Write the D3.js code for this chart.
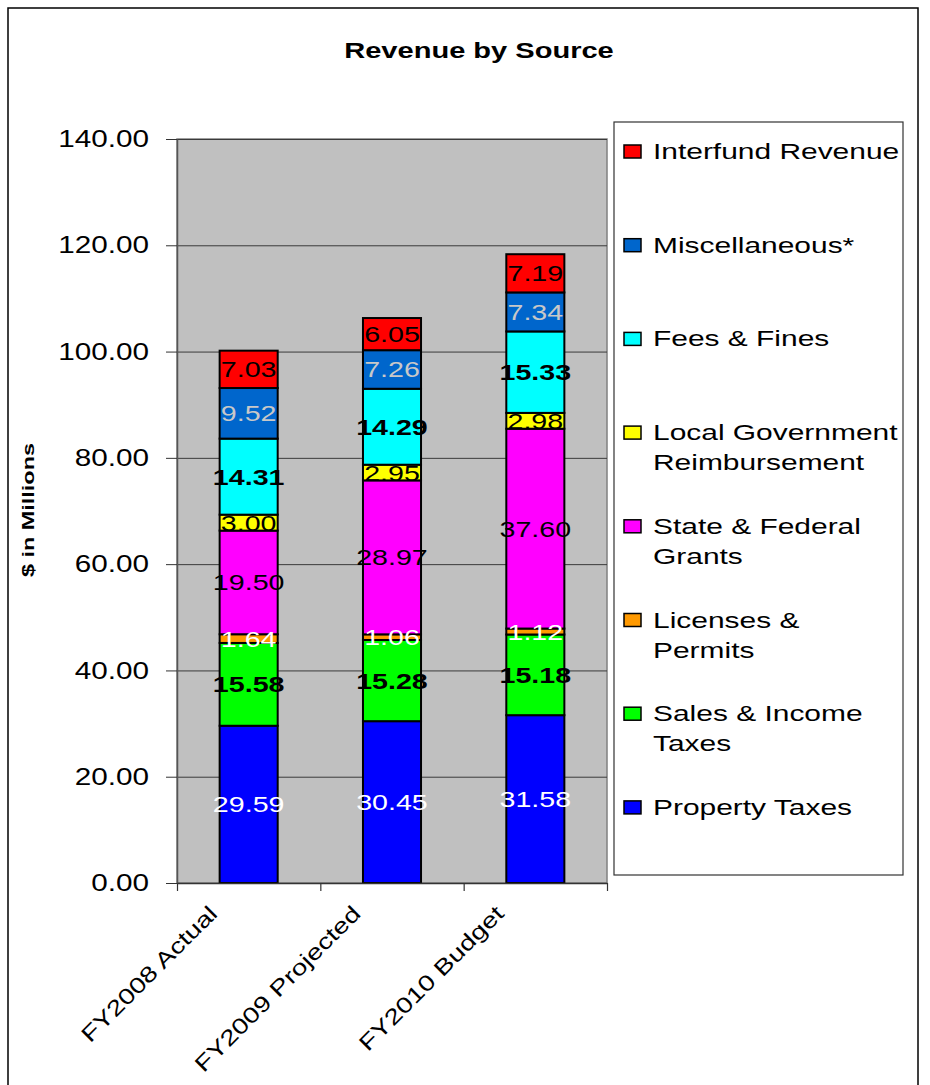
<!DOCTYPE html>
<html>
<head>
<meta charset="utf-8">
<script src="https://cdn.jsdelivr.net/npm/d3@7"></script>
<style>
  html, body { margin: 0; padding: 0; background: #fff; }
  svg { display: block; font-family: "Liberation Sans", Arial, sans-serif; }
</style>
</head>
<body>
<svg id="chart" width="930" height="1085"></svg>
<script>
// Fiscal-year categories
const categories = ["FY2008 Actual", "FY2009 Projected", "FY2010 Budget"];

// Revenue by source, $ in millions (stacked bottom to top)
const propertyTaxes      = [29.59, 30.45, 31.58];
const salesIncomeTaxes   = [15.58, 15.28, 15.18];
const licensesPermits    = [1.64, 1.06, 1.12];
const stateFederalGrants = [19.50, 28.97, 37.60];
const localGovReimb      = [3.00, 2.95, 2.98];
const feesFines          = [14.31, 14.29, 15.33];
const miscellaneous      = [9.52, 7.26, 7.34];
const interfundRevenue   = [7.03, 6.05, 7.19];

const seriesNames = [
  "Property Taxes", "Sales & Income Taxes", "Licenses & Permits",
  "State & Federal Grants", "Local Government Reimbursement",
  "Fees & Fines", "Miscellaneous*", "Interfund Revenue"
];
const legendLines = [
  ["Property Taxes"], ["Sales & Income", "Taxes"], ["Licenses &", "Permits"],
  ["State & Federal", "Grants"], ["Local Government", "Reimbursement"],
  ["Fees & Fines"], ["Miscellaneous*"], ["Interfund Revenue"]
];
const seriesValues = [propertyTaxes, salesIncomeTaxes, licensesPermits,
  stateFederalGrants, localGovReimb, feesFines, miscellaneous, interfundRevenue];

const yTicks = [0, 20, 40, 60, 80, 100, 120, 140];

// Styling per series
const fills = ["#0000FF", "#00FF00", "#FF9900", "#FF00FF", "#FFFF00", "#00FFFF", "#0066CC", "#FF0000"];
const labelColors = ["#FFFFFF", "#000000", "#FFFFFF", "#000000", "#000000", "#000000", "#C8C8C8", "#000000"];
const labelWeights = ["normal", "bold", "normal", "normal", "normal", "bold", "normal", "normal"];

// Build table rows for d3.stack
const table = categories.map((c, i) => {
  const row = { category: c };
  seriesNames.forEach((s, j) => { row[s] = seriesValues[j][i]; });
  return row;
});
const stacked = d3.stack().keys(seriesNames)(table);

const svg = d3.select("#chart");

// Widen text along its baseline (the glyphs are drawn horizontally stretched)
function stretch(sel, k) {
  sel.each(function () {
    const w = this.getComputedTextLength();
    d3.select(this).attr("textLength", w * k).attr("lengthAdjust", "spacingAndGlyphs");
  });
}

// Outer frame
svg.append("rect")
  .attr("x", 8).attr("y", 8).attr("width", 910).attr("height", 1120)
  .attr("fill", "none").attr("stroke", "#000").attr("stroke-width", 1.5);

// Title
svg.append("text")
  .attr("x", 479).attr("y", 58)
  .attr("text-anchor", "middle")
  .attr("font-size", 22).attr("font-weight", "bold")
  .text("Revenue by Source")
  .call(stretch, 1.32);

// Plot geometry
const plotLeft = 177, plotRight = 607, plotTop = 139, plotBottom = 883;

const x = d3.scaleBand()
  .domain(categories)
  .range([plotLeft, plotRight])
  .paddingInner(0.595)
  .paddingOuter(0.2975);

const y = d3.scaleLinear().domain([0, 140]).range([plotBottom, plotTop]);

// Plot background
svg.append("rect")
  .attr("x", plotLeft).attr("y", plotTop)
  .attr("width", plotRight - plotLeft).attr("height", plotBottom - plotTop)
  .attr("fill", "#C0C0C0").attr("stroke", "#808080").attr("stroke-width", 1.5);

// Gridlines
const grid = svg.append("g")
  .attr("transform", `translate(${plotLeft},0)`)
  .call(d3.axisLeft(y).tickValues(yTicks).tickSize(-(plotRight - plotLeft)).tickFormat(""));
grid.select(".domain").remove();
grid.selectAll(".tick line").attr("stroke", "#3a3a3a").attr("stroke-width", 1);

// Y axis with labels
const yAxis = svg.append("g")
  .attr("transform", `translate(${plotLeft},0)`)
  .call(d3.axisLeft(y).tickValues(yTicks).tickSize(11).tickSizeOuter(0).tickPadding(17)
    .tickFormat(d3.format(".2f")));
yAxis.select(".domain").attr("stroke", "#555").attr("stroke-width", 1.5);
yAxis.selectAll(".tick line").attr("stroke", "#333");
yAxis.selectAll(".tick text")
  .attr("font-family", "Liberation Sans, Arial, sans-serif")
  .attr("font-size", 23).attr("fill", "#000").attr("dy", "0.33em")
  .call(stretch, 1.29);

// Y axis title
svg.append("text")
  .attr("transform", "translate(34,510) rotate(-90)")
  .attr("text-anchor", "middle")
  .attr("font-size", 17).attr("font-weight", "bold")
  .attr("textLength", 134).attr("lengthAdjust", "spacingAndGlyphs")
  .text("$ in Millions");

// Stacked bars
const layers = svg.append("g").selectAll("g.layer")
  .data(stacked)
  .join("g")
  .attr("class", "layer")
  .attr("fill", (d, i) => fills[i]);

layers.selectAll("rect")
  .data(d => d)
  .join("rect")
  .attr("x", d => x(d.data.category))
  .attr("width", x.bandwidth())
  .attr("y", d => y(d[1]))
  .attr("height", d => y(d[0]) - y(d[1]))
  .attr("stroke", "#000")
  .attr("stroke-width", 2);

// Value labels centred in each segment
stacked.forEach((layer, i) => {
  svg.append("g").selectAll("text")
    .data(layer)
    .join("text")
    .attr("x", d => x(d.data.category) + x.bandwidth() / 2)
    .attr("y", d => (y(d[0]) + y(d[1])) / 2 + 8)
    .attr("text-anchor", "middle")
    .attr("font-size", 22)
    .attr("font-weight", labelWeights[i])
    .attr("fill", labelColors[i])
    .text(d => d3.format(".2f")(d[1] - d[0]))
    .call(stretch, 1.3);
});

// X axis line and category boundary ticks
const xBound = d3.scaleLinear().domain([0, categories.length]).range([plotLeft, plotRight]);
const xAxis = svg.append("g")
  .attr("transform", `translate(0,${plotBottom})`)
  .call(d3.axisBottom(xBound).ticks(categories.length).tickSize(8).tickSizeOuter(0).tickFormat(""));
xAxis.select(".domain").attr("stroke", "#333").attr("stroke-width", 1.5);
xAxis.selectAll(".tick line").attr("stroke", "#333").attr("stroke-width", 1.2);

// Rotated category labels
svg.append("g").selectAll("text")
  .data(categories)
  .join("text")
  .attr("transform", d => `translate(${x(d) + x.bandwidth() / 2 - 30},915) rotate(-45)`)
  .attr("text-anchor", "end")
  .attr("font-size", 22)
  .text(d => d)
  .call(stretch, 1.27);

// Legend
const legendX = 614, legendY = 122, legendW = 289, legendH = 753;
svg.append("rect")
  .attr("x", legendX).attr("y", legendY).attr("width", legendW).attr("height", legendH)
  .attr("fill", "#fff").attr("stroke", "#333").attr("stroke-width", 1.2);

svg.append("clipPath").attr("id", "legclip")
  .append("rect").attr("x", legendX).attr("y", legendY).attr("width", legendW).attr("height", legendH);

const legendOrder = d3.range(seriesNames.length).reverse();
const legend = svg.append("g").attr("clip-path", "url(#legclip)");
legendOrder.forEach((si, row) => {
  const base = 159 + row * 93.7;
  legend.append("rect")
    .attr("x", 624).attr("y", base - 14).attr("width", 17).attr("height", 13)
    .attr("fill", fills[si]).attr("stroke", "#000").attr("stroke-width", 1.5);
  legendLines[si].forEach((line, li) => {
    legend.append("text")
      .attr("x", 653).attr("y", base + li * 30)
      .attr("font-size", 22)
      .text(line)
      .call(stretch, 1.36);
  });
});
</script>
</body>
</html>
